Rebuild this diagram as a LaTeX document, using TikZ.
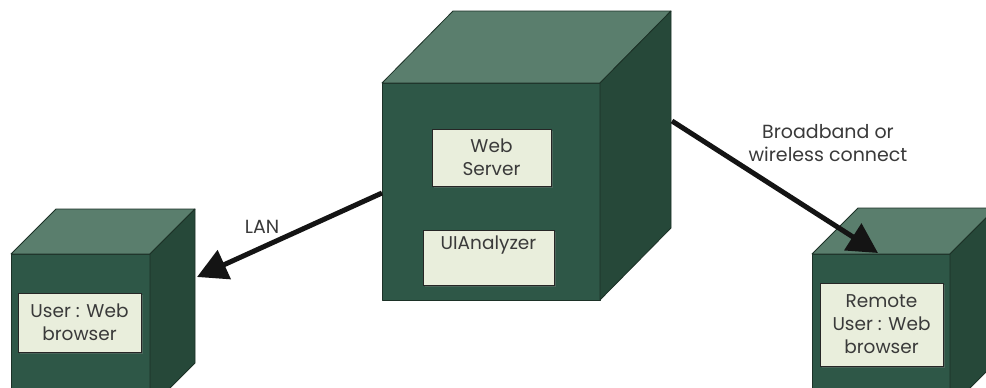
\documentclass[tikz,border=0pt]{standalone}
\usepackage{fontspec}
\setmainfont{Poppins}
\usetikzlibrary{shadows,arrows.meta,calc}

\definecolor{cubefront}{HTML}{2E5747}
\definecolor{cubetop}{HTML}{5A7E6D}
\definecolor{cubeside}{HTML}{264839}
\definecolor{cubeedge}{HTML}{1C3127}
\definecolor{cardfill}{HTML}{E9EEDC}
\definecolor{inktext}{HTML}{3A3A3A}

\tikzset{
  face/.style={draw=cubeedge, line width=0.8pt, line join=round},
  frontface/.style={face, fill=cubefront, inner sep=0pt, outer sep=0pt, anchor=north west},
  card/.style={draw=black!85, line width=0.8pt, fill=cardfill, text=inktext,
    align=center, inner sep=2pt, font=\fontsize{18.5}{23}\selectfont,
    drop shadow={shadow xshift=2pt, shadow yshift=-2pt, opacity=0.35}},
  link/.style={line width=5pt, draw=black!92, -{Triangle[length=30pt,width=31pt]}},
  linklabel/.style={text=inktext, align=center, font=\fontsize{19}{23}\selectfont},
}

% draws the top and right faces next to a front face node
\newcommand{\cubefaces}[3]{% node, depth x, depth y
  \draw[face, fill=cubetop] (#1.north west) -- ++(#2,-#3) -- ($(#1.north east)+(#2,-#3)$) -- (#1.north east) -- cycle;
  \draw[face, fill=cubeside] (#1.north east) -- ++(#2,-#3) -- ($(#1.south east)+(#2,-#3)$) -- (#1.south east) -- cycle;
}

\begin{document}
\begin{tikzpicture}[x=1pt,y=-1pt]
  \clip (0,0) rectangle (986,388);
  \fill[white] (0,0) rectangle (986,388);

  % server cube
  \node[frontface, minimum width=218pt, minimum height=217pt] (server) at (382,83) {};
  \cubefaces{server}{71}{72}

  % local client cube
  \node[frontface, minimum width=139pt, minimum height=154pt] (local) at (11,254) {};
  \cubefaces{local}{45}{45}

  % remote client cube
  \node[frontface, minimum width=138pt, minimum height=154pt] (remote) at (812,254) {};
  \cubefaces{remote}{46}{46}

  % components inside the cubes
  \node[card, minimum width=119pt, minimum height=57pt] (websrv) at (491.5,157.5) {Web\\Server};
  \node[card, minimum width=131pt, minimum height=55pt] (uian) at (488.5,257.5) {UIAnalyzer\\\strut};
  \node[card, minimum width=123pt, minimum height=59pt] (localui) at (79.5,322.5) {User : Web\\browser};
  \node[card, minimum width=123pt, minimum height=83pt] (remoteui) at (881.5,324.5) {Remote\\User : Web\\browser};

  % connection end points on the cube faces
  \coordinate (lanstart) at (server.west |- 0,193);
  \coordinate (lanend) at (197,277);
  \coordinate (bbstart) at (672,121);
  \coordinate (bbend) at (878,253);

  \draw[link] (lanstart) -- (lanend);
  \draw[link] (bbstart) -- (bbend);

  \node[linklabel] (lanlabel) at (262,227) {LAN};
  \node[linklabel] (bblabel) at (828,143) {Broadband or\\wireless connect};
\end{tikzpicture}
\end{document}
